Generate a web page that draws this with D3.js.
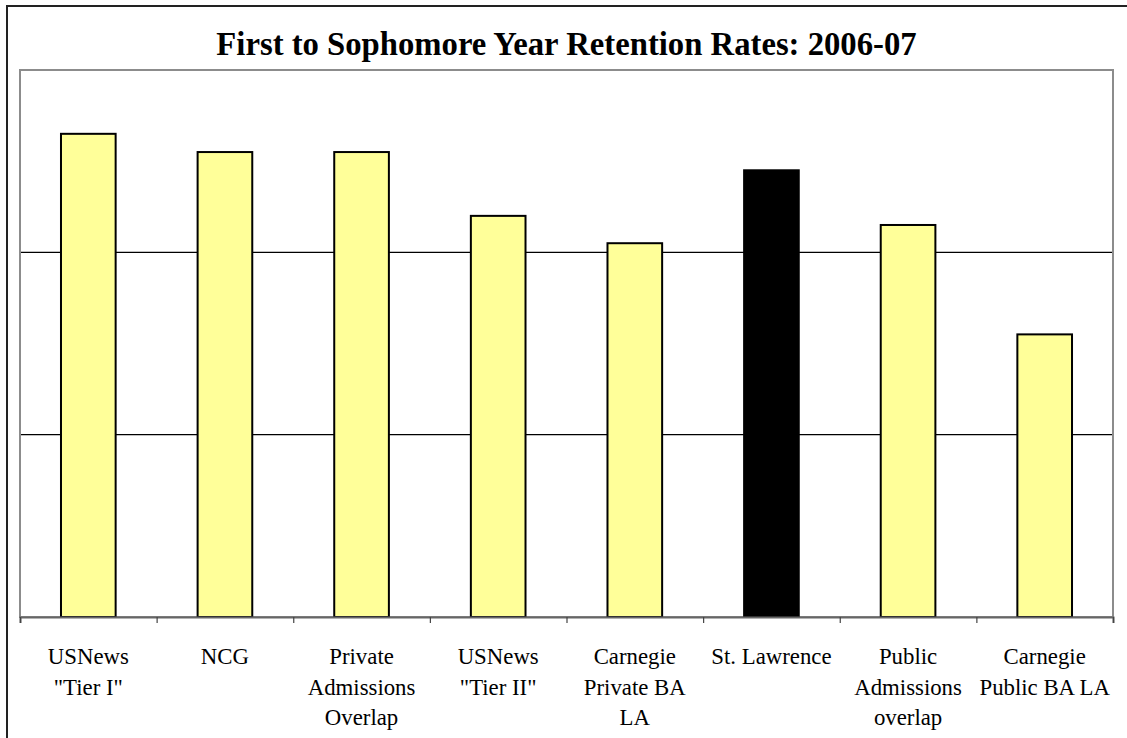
<!DOCTYPE html>
<html>
<head>
<meta charset="utf-8">
<script src="https://cdn.jsdelivr.net/npm/d3@7"></script>
<style>
  body { margin: 0; background: #fff; }
</style>
</head>
<body>
<div id="chart"></div>
<script>
// data (retention rate, first to sophomore year)
const categories = ["USNews\n\"Tier I\"", "NCG", "Private\nAdmissions\nOverlap", "USNews\n\"Tier II\"",
                    "Carnegie\nPrivate BA\nLA", "St. Lawrence", "Public\nAdmissions\noverlap", "Carnegie\nPublic BA LA"];
const rates = [0.915, 0.905, 0.905, 0.870, 0.855, 0.895, 0.865, 0.805];
const highlight = "St. Lawrence";
const gridValues = [0.65, 0.75, 0.85, 0.95];
const titleText = "First to Sophomore Year Retention Rates: 2006-07";

const width = 1127, height = 738;
const plot = {left: 20, top: 70, right: 1113, bottom: 617};
const serif = "'Times New Roman', 'Liberation Serif', Tinos, 'DejaVu Serif', serif";

const svg = d3.select("#chart").append("svg")
    .attr("width", width)
    .attr("height", height);

// outer frame (runs off the right and bottom edge)
svg.append("rect")
    .attr("x", 7).attr("y", 6)
    .attr("width", 1300).attr("height", 900)
    .attr("fill", "none")
    .attr("stroke", "#222")
    .attr("stroke-width", 2);

svg.append("text")
    .attr("x", 566.5)
    .attr("y", 55)
    .attr("text-anchor", "middle")
    .attr("font-family", serif)
    .attr("font-size", "32.7px")
    .attr("font-weight", "bold")
    .text(titleText);

const y = d3.scaleLinear()
    .domain([gridValues[0], gridValues[gridValues.length - 1]])
    .range([plot.bottom, plot.top]);

const x = d3.scaleBand()
    .domain(categories)
    .range([plot.left, plot.right])
    .padding(0);

// gridlines
svg.append("g")
    .selectAll("line")
    .data(gridValues.slice(1, -1))
    .enter().append("line")
    .attr("x1", plot.left).attr("x2", plot.right)
    .attr("y1", d => y(d)).attr("y2", d => y(d))
    .attr("stroke", "#000")
    .attr("stroke-width", 1.2);

// plot area border
svg.append("rect")
    .attr("x", plot.left).attr("y", plot.top)
    .attr("width", plot.right - plot.left)
    .attr("height", plot.bottom - plot.top)
    .attr("fill", "none")
    .attr("stroke", "#8c8c8c")
    .attr("stroke-width", 2);

// bars
const barW = x.bandwidth() * 0.4;
svg.append("g")
    .selectAll("rect")
    .data(categories.map((c, i) => ({cat: c, v: rates[i]})))
    .enter().append("rect")
    .attr("x", d => x(d.cat) + (x.bandwidth() - barW) / 2)
    .attr("y", d => y(d.v))
    .attr("width", barW)
    .attr("height", d => plot.bottom - y(d.v))
    .attr("fill", d => d.cat === highlight ? "#000" : "#ffff99")
    .attr("stroke", "#000")
    .attr("stroke-width", 2);

// x axis: ticks between categories
const tickPos = d3.scaleLinear().domain([0, categories.length]).range([plot.left, plot.right]);
const xAxis = svg.append("g")
    .attr("transform", `translate(0, ${plot.bottom})`)
    .call(d3.axisBottom(tickPos).ticks(categories.length).tickSize(6).tickFormat(""));
xAxis.select(".domain").attr("stroke", "#666").attr("stroke-width", 2);
xAxis.selectAll(".tick line").attr("stroke", "#444").attr("stroke-width", 1.2);

// category labels
const labels = svg.append("g")
    .selectAll("text")
    .data(categories)
    .enter().append("text")
    .attr("text-anchor", "middle")
    .attr("font-family", serif)
    .attr("font-size", "22.8px")
    .attr("x", d => x(d) + x.bandwidth() / 2)
    .attr("y", 664);

labels.selectAll("tspan")
    .data(d => d.split("\n").map(line => ({line, x: x(d) + x.bandwidth() / 2})))
    .enter().append("tspan")
    .attr("x", d => d.x)
    .attr("dy", (d, i) => i === 0 ? 0 : 30.5)
    .text(d => d.line);
</script>
</body>
</html>
